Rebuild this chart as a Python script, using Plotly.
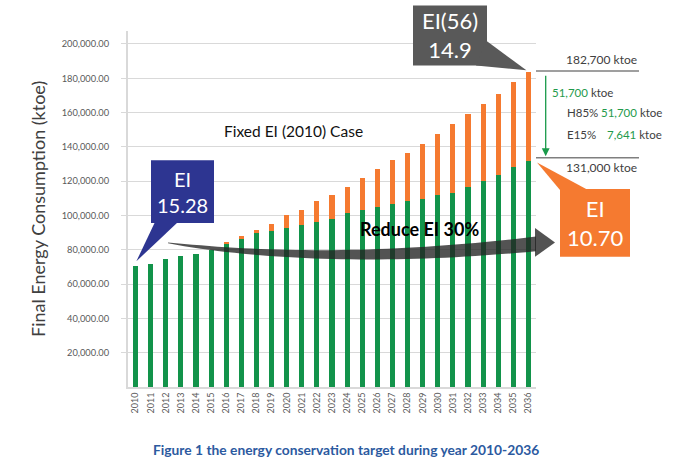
import plotly.graph_objects as go

years = list(range(2010, 2037))
# EI-reduced case (green) and additional consumption in fixed-EI case (orange)
green = [70800, 72000, 74500, 76300, 77800, 80000, 83200, 86300, 89600, 91200,
         92900, 94700, 96200, 98000, 101500, 103000, 105000, 106500, 108400, 109600,
         111700, 113300, 116800, 120000, 123500, 128400, 131500]
orange = [0, 0, 0, 0, 0, 0, 1200, 1700, 1800, 3700,
          7400, 8300, 12200, 13900, 15100, 19000, 22000, 25600, 28300, 32300,
          35900, 40100, 42400, 45000, 47300, 49400, 52300]
y_ticks = list(range(20000, 200001, 20000))

GREEN = "#12934a"
ORANGE = "#f57a30"
FONT = "Lato"

W, H = 692, 463
ML, MR, MT, MB = 128, 156, 30.5, 75.5
L, R = ML, W - MR
T, B = MT, H - MB
YMAX = 200000 * (B - T) / 344.0


def px(x):
    return (x - L) / (R - L)


def py(y):
    return (B - y) / (B - T)


def dx(year):
    return (year - 2009.5) / len(years)


def dy(v):
    return v / YMAX


fig = go.Figure()
fig.add_trace(go.Bar(x=years, y=green, marker_color=GREEN, name="EI reduced",
                     marker_line_width=0))
fig.add_trace(go.Bar(x=years, y=orange, marker_color=ORANGE, name="Fixed EI",
                     marker_line_width=0))

shapes = []
annotations = []


def rect(x0, y0, x1, y1, color):
    shapes.append(dict(type="rect", xref="paper", yref="paper",
                       x0=px(x0), x1=px(x1), y0=py(y1), y1=py(y0),
                       fillcolor=color, line=dict(width=0), layer="above"))


def poly(pts, color, paper_pts=False):
    if paper_pts:
        p = pts
    else:
        p = [(px(a), py(b)) for a, b in pts]
    path = "M " + " L ".join(f"{a:.5f},{b:.5f}" for a, b in p) + " Z"
    shapes.append(dict(type="path", xref="paper", yref="paper", path=path,
                       fillcolor=color, line=dict(width=0), layer="above"))


def text(x, y, s, size=12, color="#404040", xanchor="center", bold=False, angle=0):
    annotations.append(dict(x=px(x), y=py(y), xref="paper", yref="paper", text=s,
                            showarrow=False, xanchor=xanchor, yanchor="middle",
                            textangle=angle,
                            font=dict(family=FONT, size=size, color=color,
                                      weight="bold" if bold else "normal")))


# Big curved arrow (reduce EI 30%)
def bez(t, p0, p1, p2):
    return ((1 - t) ** 2 * p0[0] + 2 * (1 - t) * t * p1[0] + t * t * p2[0],
            (1 - t) ** 2 * p0[1] + 2 * (1 - t) * t * p1[1] + t * t * p2[1])


P0, P1, P2 = (168, 243), (330, 266), (536, 244)
up, lo = [], []
N = 40
for i in range(N + 1):
    t = i / N
    x, y = bez(t, P0, P1, P2)
    h = 0.3 + 7.0 * t ** 0.7
    up.append((x, y - h))
    lo.append((x, y + h))
poly(up + lo[::-1], "rgba(35,35,35,0.78)")
poly([(535, 228), (555, 242.5), (535, 257)], "rgba(35,35,35,0.78)")
text(419, 229, "Reduce EI 30%", size=18, color="#000000", bold=True)

# Blue callout (2010)
rect(151, 160, 214, 223, "#2d3591")
tip = (dx(years[0]) + 0.002, dy(green[0]) + 0.012)
poly([(px(155), py(222)), (px(178), py(222)), tip], "#2d3591", paper_pts=True)
text(182.5, 191.5, "EI<br>15.28", size=20, color="#ffffff")

# Grey callout (2036 fixed EI)
rect(413, 5, 487, 65, "#595959")
tip2 = (dx(years[-1]) - 0.005, dy(green[-1] + orange[-1]) + 0.004)
poly([(px(486), py(40)), (px(476), py(65)), tip2], "#595959", paper_pts=True)
text(450, 35, "EI(56)<br>14.9", size=22, color="#ffffff")

# Orange callout (2036 reduced)
rect(560, 189, 630, 257, ORANGE)
tip3 = (px(537), dy(green[-1]) - 0.003)
poly([tip3, (px(560), py(190)), (px(588), py(190))], ORANGE, paper_pts=True)
text(595, 223, "EI<br>10.70", size=22, color="#ffffff")

# Right-side bracket annotations
for yy in (70.5, 157.5):
    shapes.append(dict(type="line", xref="paper", yref="paper",
                       x0=px(536), x1=px(639), y0=py(yy), y1=py(yy),
                       line=dict(color="#7f7f7f", width=1.5)))
text(639, 59, "182,700 ktoe", size=12, xanchor="right")
text(639, 167, "131,000 ktoe", size=12, xanchor="right")
annotations.append(dict(x=px(545.7), y=py(156), xref="paper", yref="paper",
                        ax=0, ay=-82, axref="pixel", ayref="pixel", text="",
                        showarrow=True, arrowhead=2, arrowsize=1.2,
                        arrowwidth=1.3, arrowcolor="#1a9a4a"))
G = "#1f9a4c"
text(550, 92, f"<span style='color:{G}'>51,700</span> ktoe", size=11.5, xanchor="left")
text(565, 112, "H85%", size=11.5, xanchor="left")
text(565, 134, "E15%", size=11.5, xanchor="left")
text(664, 112, f"<span style='color:{G}'>51,700</span> ktoe", size=11.5, xanchor="right")
text(664, 134, f"<span style='color:{G}'>7,641</span> ktoe", size=11.5, xanchor="right")

# Chart texts
text(293, 131, "Fixed EI (2010) Case", size=15.5, color="#111111")
text(38, 209, "Final Energy Consumption (ktoe)", size=18, color="#404040", angle=-90)
text(346, 450, "Figure 1 the energy conservation target during year 2010-2036",
     size=13.8, color="#2c5a9f", bold=True)

fig.update_layout(
    width=W, height=H,
    margin=dict(l=ML, r=MR, t=MT, b=MB, pad=0),
    paper_bgcolor="white", plot_bgcolor="white",
    barmode="stack", bargap=0.66,
    showlegend=False,
    shapes=shapes, annotations=annotations,
    font=dict(family=FONT),
)
fig.update_xaxes(range=[2009.5, 2036.5], tickmode="array", tickvals=years,
                 ticktext=[str(y) for y in years], tickangle=-90,
                 tickfont=dict(size=9, color="#595959", family=FONT),
                 showgrid=False, showline=True, linecolor="#d9d9d9", linewidth=2,
                 ticks="", zeroline=False)
fig.update_yaxes(range=[0, YMAX], tickmode="array", tickvals=y_ticks,
                 tickformat=",.2f", tickfont=dict(size=9.3, color="#595959", family=FONT),
                 showgrid=True, gridcolor="#d9d9d9", gridwidth=1,
                 showline=True, linecolor="#d9d9d9", linewidth=2,
                 ticks="outside", ticklen=5, tickcolor="#d9d9d9",
                 ticklabelstandoff=10, zeroline=False)

fig.write_html("out.html", config={"displayModeBar": False},
               post_script="document.body.style.margin='0';document.body.style.padding='0';")
